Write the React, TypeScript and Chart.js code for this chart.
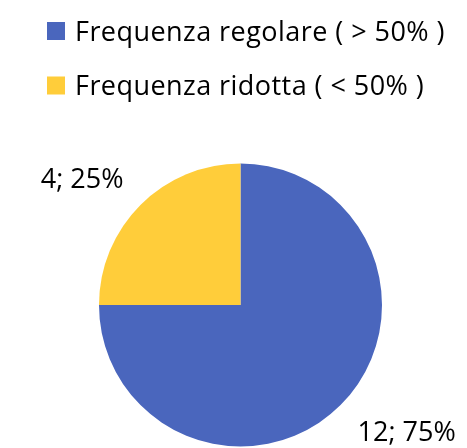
import React, { useEffect, useRef } from "react";
import { Chart, registerables } from "chart.js";

Chart.register(...registerables);

const categories = ["Frequenza regolare ( > 50% )", "Frequenza ridotta ( < 50% )"];
const counts = [12, 4];
const colors = ["#4A66BD", "#FFCD3A"];

const FONT = "'Open Sans', 'Liberation Sans', sans-serif";

const legendPlugin = {
  id: "leftLegend",
  afterDraw(chart: any, _args: any, opts: any) {
    const ctx = chart.ctx;
    const labels: string[] = chart.data.labels;
    const bg: string[] = chart.data.datasets[0].backgroundColor;
    ctx.save();
    ctx.font = `${opts.fontSize}px ${FONT}`;
    if ("letterSpacing" in ctx) (ctx as any).letterSpacing = opts.letterSpacing;
    ctx.fillStyle = "#000";
    ctx.textAlign = "left";
    ctx.textBaseline = "alphabetic";
    const capH = opts.fontSize * 0.714;
    labels.forEach((lab, i) => {
      const cy = opts.y + i * opts.rowGap;
      ctx.fillStyle = bg[i];
      ctx.fillRect(opts.x, cy - opts.box / 2, opts.box, opts.box);
      ctx.fillStyle = "#000";
      ctx.fillText(lab, opts.x + opts.textOffset, cy + capH / 2);
    });
    ctx.restore();
  },
};

const valueLabelPlugin = {
  id: "valueLabels",
  afterDatasetsDraw(chart: any, _args: any, opts: any) {
    const ctx = chart.ctx;
    const meta = chart.getDatasetMeta(0);
    const data: number[] = chart.data.datasets[0].data;
    const total = data.reduce((a, b) => a + b, 0);
    ctx.save();
    ctx.font = `${opts.fontSize}px ${FONT}`;
    ctx.fillStyle = "#000";
    ctx.textBaseline = "alphabetic";
    const capH = opts.fontSize * 0.714;
    meta.data.forEach((arc: any, i: number) => {
      const p = arc.getProps(["x", "y", "startAngle", "endAngle", "outerRadius"], true);
      const mid = (p.startAngle + p.endAngle) / 2;
      const c = Math.cos(mid);
      const s = Math.sin(mid);
      const ax = p.x + (p.outerRadius + opts.gap) * c;
      const ay = p.y + (p.outerRadius + opts.gap) * s;
      const pct = Math.round((data[i] / total) * 100);
      const text = `${data[i]}; ${pct}%`;
      ctx.textAlign = c < 0 ? "right" : "left";
      const by = s < 0 ? ay : ay + capH;
      ctx.fillText(text, ax, by);
    });
    ctx.restore();
  },
};

export default function App() {
  const ref = useRef<HTMLCanvasElement>(null);
  useEffect(() => {
    if (!ref.current) return;
    const chart = new Chart(ref.current, {
      type: "pie",
      data: {
        labels: categories,
        datasets: [
          {
            data: counts,
            backgroundColor: colors,
            borderWidth: 0,
          },
        ],
      },
      options: {
        responsive: false,
        animation: false,
        layout: { padding: { left: 14, right: 0, top: 163.5, bottom: 1.5 } },
        plugins: {
          legend: { display: false },
          tooltip: { enabled: false },
          leftLegend: { x: 47, y: 31, rowGap: 54.5, box: 18, textOffset: 28, fontSize: 27, letterSpacing: "0.45px" },
          valueLabels: { fontSize: 27, gap: 24 },
        } as any,
      },
      plugins: [legendPlugin, valueLabelPlugin],
    });
    return () => chart.destroy();
  }, []);
  return (
    <div style={{ position: "fixed", left: 0, top: 0, width: 467, height: 448, background: "#fff" }}>
      <canvas ref={ref} width={467} height={448} />
    </div>
  );
}
